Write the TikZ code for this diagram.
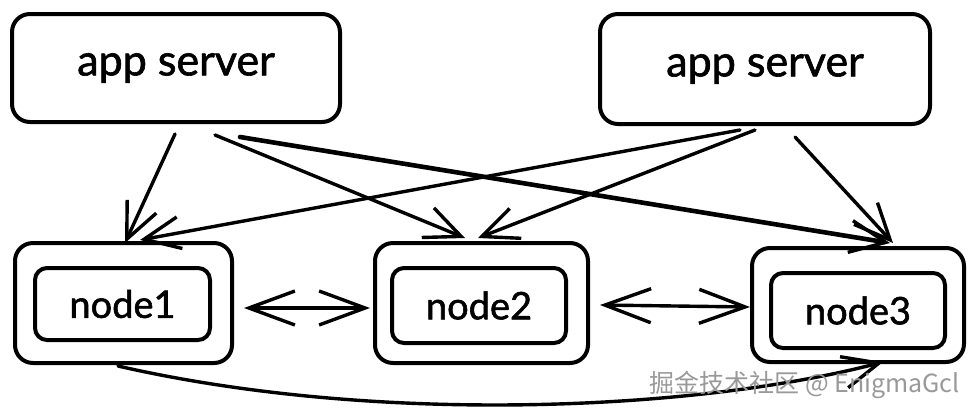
\documentclass[tikz,border=0pt]{standalone}
\usepackage{fontspec}
\setmainfont{Lato}
\newfontfamily\hand[FakeBold=1.5]{Lato}
\newfontfamily\cjkfont{Noto Sans CJK SC}
\usetikzlibrary{arrows.meta}
\tikzset{
  box/.style={draw=black, line width=4pt, rounded corners=18pt, fill=white, inner sep=0pt},
  inbox/.style={draw=black, line width=4pt, rounded corners=12pt, inner sep=0pt, font=\hand\fontsize{38}{40}\selectfont},
  srv/.style={box, font=\hand\fontsize{43}{45}\selectfont},
  conn/.style={draw=black, line width=3.4pt, line cap=round, -{Straight Barb[length=36pt,width=32pt,line width=3.4pt]}},
  biconn/.style={draw=black, line width=3.4pt, line cap=round, {Straight Barb[length=46pt,width=34pt,line width=3.4pt]}-{Straight Barb[length=46pt,width=34pt,line width=3.4pt]}},
}
\begin{document}
\begin{tikzpicture}[x=1pt,y=-1pt]
\useasboundingbox[fill=white] (0,0) rectangle (974,418);
% servers
\node[srv, minimum width=328pt, minimum height=108pt] (as1) at (176,68) {\raisebox{-4pt}{app server}};
\node[srv, minimum width=330pt, minimum height=110pt] (as2) at (765,69) {\raisebox{-4pt}{app server}};
% outer boxes
\node[box, minimum width=217pt, minimum height=120pt] (n1) at (123.5,303) {};
\node[box, minimum width=213pt, minimum height=120pt] (n2) at (481.5,303) {};
\node[box, minimum width=212pt, minimum height=114pt] (n3) at (858,305) {};
% inner boxes
\node[inbox, minimum width=175pt, minimum height=72pt] (i1) at (122.5,304) {node1};
\node[inbox, minimum width=174pt, minimum height=75pt] (i2) at (479,305.5) {node2};
\node[inbox, minimum width=174pt, minimum height=75pt] (i3) at (858,310.5) {node3};
% arrows from server 1
\draw[conn] ([xshift=-1pt,yshift=-10pt]as1.south) -- ([xshift=1.5pt,yshift=-2pt]n1.north);
\draw[conn] ([xshift=39pt,yshift=-11pt]as1.south) -- ([xshift=-16.5pt,yshift=3pt]n2.north);
\draw[conn, line width=4.6pt] ([xshift=64pt,yshift=-13pt]as1.south) -- ([xshift=32pt,yshift=3pt]n3.north);
% arrows from server 2
\draw[conn] ([xshift=-25pt,yshift=-4pt]as2.south) -- ([xshift=16.5pt,yshift=1pt]n1.north);
\draw[conn] ([xshift=-10pt,yshift=-4pt]as2.south) -- ([xshift=-3.5pt,yshift=3pt]n2.north);
\draw[conn] ([xshift=30pt,yshift=-11pt]as2.south) -- ([xshift=35pt,yshift=3pt]n3.north);
% between nodes
\draw[biconn] ([xshift=10pt,yshift=-5pt]n1.east) -- ([xshift=-3pt,yshift=-5pt]n2.west);
\draw[biconn] ([xshift=10pt,yshift=-2pt]n2.east) -- ([xshift=0pt,yshift=-2pt]n3.west);
% bottom curve
\draw[conn] ([xshift=-5.5pt,yshift=-1pt]n1.south) .. controls (380,426) and (700,410) .. ([xshift=25pt,yshift=2pt]n3.south);
% watermark
\node[text=black!40, font=\cjkfont\fontsize{25}{27}\selectfont, anchor=east, inner sep=0pt] (wm) at (960,385) {掘金技术社区 @ EnigmaGcl};
\end{tikzpicture}
\end{document}
